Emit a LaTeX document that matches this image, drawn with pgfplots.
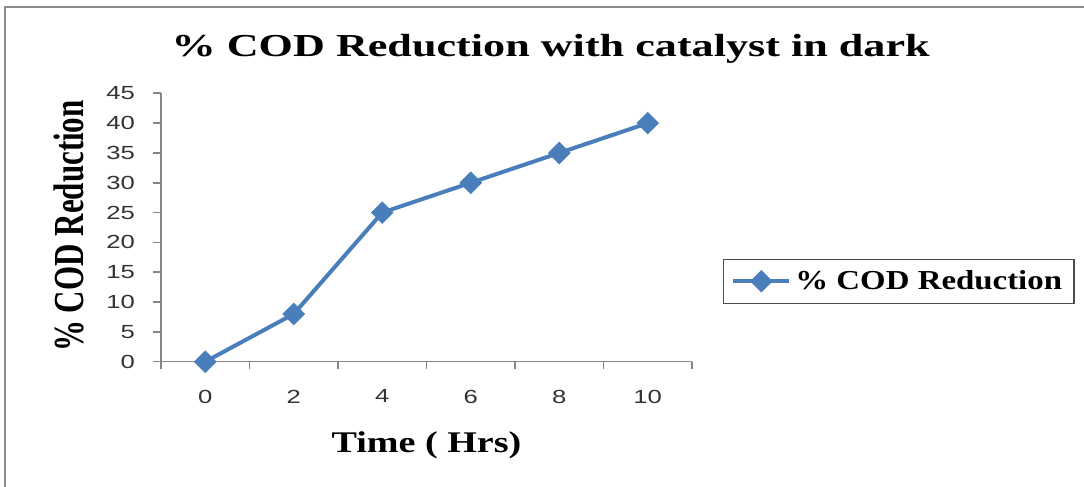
\documentclass[border=0pt]{standalone}
\usepackage{fontspec}
\usepackage{graphicx}
\usepackage{pgfplots}
\pgfplotsset{compat=1.18}
\setmainfont{Liberation Serif}
\newfontfamily\tickfont[FakeStretch=1.35]{Liberation Sans}
\newfontfamily\titlefont[FakeStretch=1.38]{Liberation Serif}
\newfontfamily\xlabfont[FakeStretch=1.27]{Liberation Serif}
\newfontfamily\legfont[FakeStretch=1.2]{Liberation Serif}
\definecolor{excelblue}{HTML}{4A7EBB}
\definecolor{axgray}{HTML}{868686}
\definecolor{framegray}{HTML}{8C8C8C}
\pgfplotstableread{
x y
0 0
2 8
4 25
6 30
8 35
10 40
}\codtable
\begin{document}
\begin{tikzpicture}
\useasboundingbox (0,0) rectangle (542pt,243.5pt);
\draw[framegray, line width=1pt] (2.5pt,0pt) -- (2.5pt,240pt) -- (542pt,240pt);
\begin{axis}[
  at={(80.5pt,62.65pt)}, anchor=south west,
  scale only axis, width=265.5pt, height=134.2pt,
  xmin=-1, xmax=11, ymin=0, ymax=45,
  clip=false,
  axis x line*=bottom, axis y line*=left,
  axis line style={axgray, line width=0.8pt, -},
  xtick={0,2,4,6,8,10},
  minor xtick={-1,1,3,5,7,9,11},
  ytick={0,5,...,45},
  tick align=outside,
  major x tick style={draw=none},
  major tick length=4pt, minor tick length=3.5pt,
  every tick/.style={axgray, line width=0.8pt},
  every minor tick/.style={axgray, line width=0.8pt},
  /pgf/number format/assume math mode=true,
  ticklabel style={font=\tickfont\fontsize{9.5}{11}\selectfont, text=black!80},
  yticklabel style={xshift=-5.5pt},
  xticklabel style={yshift=-6.5pt},
  title={\% COD Reduction with catalyst in dark},
  title style={at={(rel axis cs:0.734,1.094)}, anchor=base, font=\titlefont\bfseries\fontsize{16}{19}\selectfont},
  xlabel={Time ( Hrs)},
  xlabel style={at={(rel axis cs:0.5,-0.340)}, anchor=base, font=\xlabfont\bfseries\fontsize{15}{18}\selectfont},
  ylabel={\scalebox{1}[1.38]{\% COD Reduction}},
  ylabel style={at={(rel axis cs:-0.146,0.5056)}, anchor=base, font=\bfseries\fontsize{15.5}{18}\selectfont},
  legend style={at={(rel axis cs:1.058,0.384)}, anchor=north west,
    draw=black!70, line width=0.6pt, font=\legfont\bfseries\fontsize{13.7}{16}\selectfont,
    inner xsep=4pt, inner ysep=3.5pt},
  legend cell align=left,
  legend image code/.code={\draw[#1, mark repeat=2, mark phase=2] plot coordinates {(0pt,0pt) (14pt,0pt) (28pt,0pt)};},
]
\addplot[excelblue, line width=2pt, mark=square*, mark size=3pt, mark options={rotate=45, solid}] table[x=x, y=y] {\codtable};
\addlegendentry{\% COD Reduction\hspace{2pt}}
\end{axis}
\end{tikzpicture}
\end{document}
